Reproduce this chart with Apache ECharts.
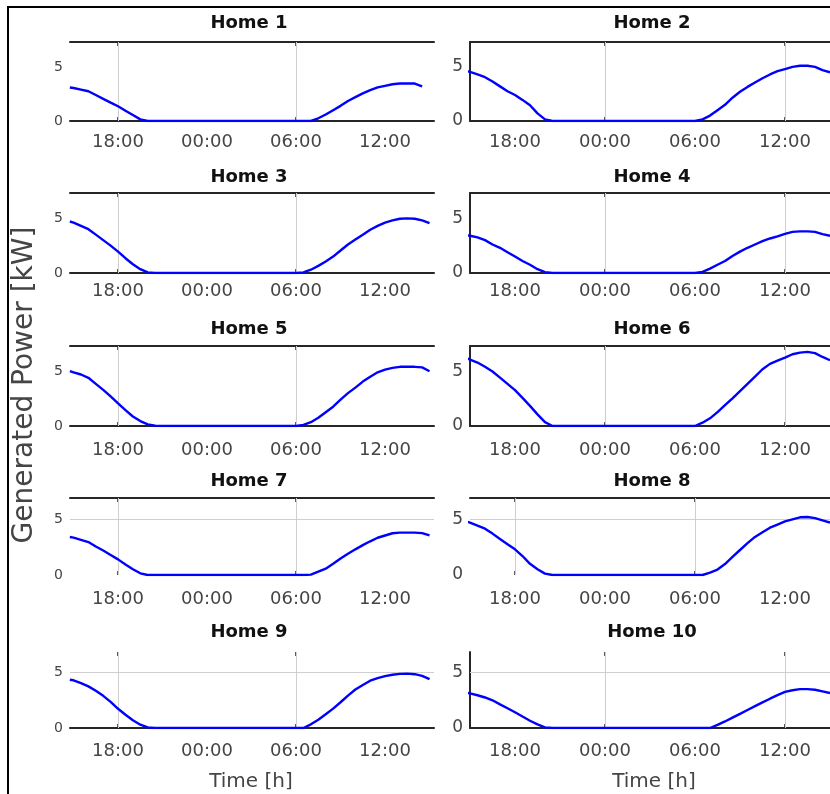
<!DOCTYPE html>
<html>
<head>
<meta charset="utf-8">
<script src="https://cdn.jsdelivr.net/npm/echarts@6/dist/echarts.min.js"></script>
<style>html,body{margin:0;padding:0;background:#fff}#c{width:830px;height:794px}</style>
</head>
<body>
<div id="c"></div>
<script>
// ---- data (hours; 24 = midnight, values in kW) ----
const times = [14.75, 15, 15.5, 16, 16.5, 17, 17.5, 18, 18.5, 19, 19.5, 20, 20.5, 21, 30, 30.5, 31, 31.5, 32, 32.5, 33, 33.5, 34, 34.5, 35, 35.5, 36, 36.5, 37, 37.5, 38, 38.5, 39];
const home1  = [3.1, 3.05, 2.9, 2.75, 2.4, 2.05, 1.7, 1.36, 0.95, 0.55, 0.15, 0, 0, 0, 0, 0, 0, 0.25, 0.6, 1.0, 1.4, 1.85, 2.2, 2.55, 2.85, 3.1, 3.25, 3.4, 3.46, 3.48, 3.46, 3.2, null];
const home2  = [4.6, 4.55, 4.3, 4.05, 3.65, 3.2, 2.75, 2.4, 1.95, 1.45, 0.7, 0.15, 0, 0, 0, 0.15, 0.5, 1.0, 1.5, 2.15, 2.7, 3.15, 3.55, 3.95, 4.3, 4.6, 4.8, 5.0, 5.1, 5.1, 5.0, 4.7, 4.5];
const home3  = [4.7, 4.6, 4.3, 4.0, 3.5, 3.0, 2.5, 1.95, 1.35, 0.8, 0.35, 0.05, 0, 0, 0, 0.05, 0.3, 0.65, 1.05, 1.5, 2.05, 2.6, 3.05, 3.5, 3.95, 4.3, 4.6, 4.8, 4.95, 4.98, 4.95, 4.8, 4.55];
const home4  = [3.45, 3.4, 3.25, 3.0, 2.6, 2.3, 1.9, 1.5, 1.1, 0.75, 0.35, 0.08, 0, 0, 0, 0.1, 0.4, 0.75, 1.1, 1.55, 1.95, 2.3, 2.6, 2.9, 3.15, 3.35, 3.57, 3.75, 3.8, 3.8, 3.75, 3.55, 3.4];
const home5  = [5.0, 4.9, 4.7, 4.4, 3.85, 3.3, 2.7, 2.06, 1.45, 0.87, 0.45, 0.15, 0.02, 0, 0, 0.1, 0.35, 0.75, 1.25, 1.76, 2.4, 3.0, 3.5, 4.05, 4.5, 4.9, 5.15, 5.3, 5.4, 5.4, 5.4, 5.35, 5.0];
const home6  = [6.2, 6.06, 5.79, 5.4, 4.97, 4.42, 3.85, 3.27, 2.56, 1.84, 1.06, 0.35, 0, 0, 0, 0.3, 0.7, 1.27, 1.9, 2.53, 3.19, 3.85, 4.51, 5.18, 5.67, 5.96, 6.24, 6.55, 6.7, 6.76, 6.65, 6.3, 6.0];
const home7  = [3.4, 3.35, 3.15, 2.95, 2.55, 2.2, 1.8, 1.4, 0.95, 0.52, 0.15, 0, 0, 0, 0, 0, 0.03, 0.3, 0.57, 1.0, 1.48, 1.9, 2.3, 2.68, 3.02, 3.34, 3.54, 3.74, 3.8, 3.8, 3.8, 3.75, 3.55];
const home8  = [4.78, 4.7, 4.42, 4.15, 3.71, 3.22, 2.76, 2.3, 1.7, 1.0, 0.51, 0.12, 0, 0, 0, 0, 0.22, 0.49, 0.98, 1.62, 2.24, 2.85, 3.41, 3.83, 4.24, 4.52, 4.8, 4.99, 5.17, 5.2, 5.1, 4.9, 4.7];
const home9  = [4.35, 4.3, 4.05, 3.75, 3.35, 2.9, 2.35, 1.73, 1.2, 0.7, 0.3, 0.05, 0, 0, 0, 0, 0.33, 0.75, 1.24, 1.75, 2.32, 2.92, 3.47, 3.87, 4.26, 4.5, 4.68, 4.8, 4.88, 4.9, 4.85, 4.7, 4.4];
const home10 = [3.18, 3.12, 2.95, 2.75, 2.5, 2.13, 1.78, 1.42, 1.03, 0.65, 0.32, 0.06, 0, 0, 0, 0, 0, 0.28, 0.59, 0.93, 1.27, 1.62, 1.97, 2.31, 2.64, 2.96, 3.25, 3.4, 3.5, 3.5, 3.45, 3.3, 3.15];
const homes = [home1, home2, home3, home4, home5, home6, home7, home8, home9, home10];
const titles = ['Home 1', 'Home 2', 'Home 3', 'Home 4', 'Home 5', 'Home 6', 'Home 7', 'Home 8', 'Home 9', 'Home 10'];
const xTicks = [18, 24, 30, 36];
const yTicks = [0, 5];
const xLabelText = 'Time [h]';
const yLabelText = 'Generated Power [kW]';

// ---- layout / style ----
const FONT = 'DejaVu Sans';
const rowTop    = [42, 193, 346, 498, 652];
const rowBottom = [121, 273, 426, 575, 728];
const rowYMax   = [7.3, 7.3, 7.3, 6.9, 6.85];
const rowTitleY = [23, 177, 329, 481, 632];
const rowLabelMargin = [12, 9.5, 15, 15, 14];
const colLeft = [70, 470];
const colWidth = 364;
const colXMin = [14.76, 15];
const colXMax = [39.3, 39];
const boxTop    = [1,1,1,1,1,1,1,1,0,0];
const boxBottom = [1,1,1,1,1,1,0,0,1,1];
const boxLeft   = [0,1,0,1,0,1,0,0,0,1];
const hGrid     = [0,0,0,0,0,0,1,1,1,1];
const vGrid = [[18,30],[24,36],[18,30],[24,36],[18,30],[24,36],[18,30],[18,30],[18,30],[24,36]];

const fmt = v => String(((v % 24) + 24) % 24).padStart(2, '0') + ':00';
const AX = '#262626';

const grid = [], xAxis = [], yAxis = [], series = [], graphic = [];
homes.forEach((vals, i) => {
  const col = i % 2, row = Math.floor(i / 2);
  grid.push({left: colLeft[col], width: colWidth, top: rowTop[row], height: rowBottom[row] - rowTop[row], containLabel: false});
  xAxis.push({
    type: 'value', gridIndex: i, position: 'bottom', min: colXMin[col], max: colXMax[col],
    axisLine: {show: !!boxBottom[i], onZero: false, lineStyle: {color: AX, width: 2}},
    axisTick: {show: true, inside: true, length: 4, customValues: vGrid[i], lineStyle: {color: AX, width: 1.5}},
    axisLabel: {show: true, customValues: xTicks, formatter: fmt, margin: rowLabelMargin[row],
      fontFamily: FONT, fontSize: 18, color: '#454545'},
    splitLine: {show: false}
  });
  xAxis.push({
    type: 'value', gridIndex: i, position: 'top', min: colXMin[col], max: colXMax[col],
    axisLine: {show: !!boxTop[i], onZero: false, lineStyle: {color: AX, width: 2}},
    axisTick: {show: true, inside: true, length: 4, customValues: vGrid[i], lineStyle: {color: AX, width: 1.5}},
    axisLabel: {show: false}, splitLine: {show: false}
  });
  yAxis.push({
    type: 'value', gridIndex: i, min: 0, max: rowYMax[row],
    axisLine: {show: !!boxLeft[i], onZero: false, lineStyle: {color: AX, width: 2}},
    axisTick: {show: false},
    axisLabel: {show: true, customValues: yTicks, margin: 7, fontFamily: FONT,
      fontSize: col === 0 ? 14 : 17, color: '#454545'},
    splitLine: {show: false}
  });
  const ml = vGrid[i].map(v => ({xAxis: v}));
  if (hGrid[i]) ml.push({yAxis: 5});
  series.push({
    type: 'line', xAxisIndex: 2 * i, yAxisIndex: i,
    data: times.map((t, k) => [t, vals[k]]),
    showSymbol: false, symbol: 'none', connectNulls: false,
    lineStyle: {color: '#0000ff', width: 2.4}, itemStyle: {color: '#0000ff'},
    z: 3,
    markLine: {silent: true, symbol: ['none', 'none'], label: {show: false},
      lineStyle: {color: '#cfcfcf', width: 1, type: 'solid'}, emphasis: {disabled: true},
      data: ml, z: 1}
  });
  graphic.push({type: 'text', x: colLeft[col] + colWidth / 2 - (col === 0 ? 3 : 0), y: rowTitleY[row],
    style: {text: titles[i], font: 'bold 18px "DejaVu Sans"', fill: '#111', textAlign: 'center', textVerticalAlign: 'middle'}});
});
graphic.push({type: 'rect', shape: {x: 8, y: 7, width: 900, height: 900}, style: {fill: 'none', stroke: '#000', lineWidth: 2}, z: 100});
graphic.push({type: 'text', x: 251, y: 782, style: {text: xLabelText, font: '20px "DejaVu Sans"', fill: '#454545', textAlign: 'center', textVerticalAlign: 'middle'}});
graphic.push({type: 'text', x: 654, y: 782, style: {text: xLabelText, font: '20px "DejaVu Sans"', fill: '#454545', textAlign: 'center', textVerticalAlign: 'middle'}});
graphic.push({type: 'text', x: 25, y: 385, rotation: Math.PI / 2, style: {text: yLabelText, font: '28px "DejaVu Sans"', fill: '#454545', textAlign: 'center', textVerticalAlign: 'middle'}});

const chart = echarts.init(document.getElementById('c'), null, {renderer: 'canvas'});
chart.setOption({animation: false, backgroundColor: '#fff', grid, xAxis, yAxis, series, graphic});
</script>
</body>
</html>
